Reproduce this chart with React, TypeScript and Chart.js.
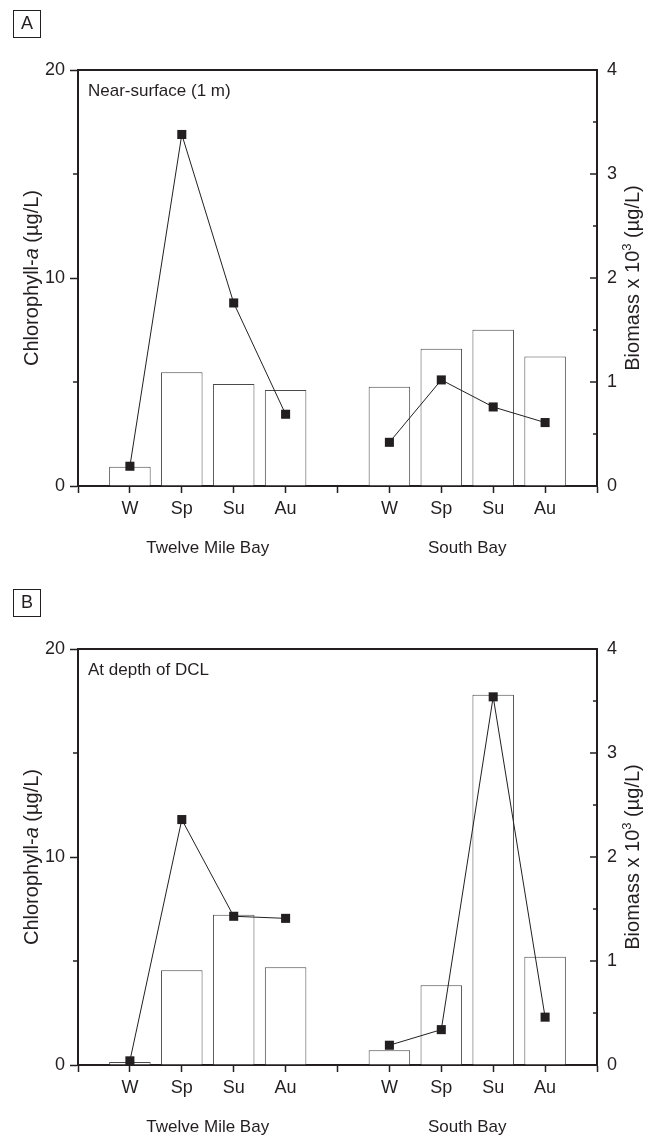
import React, { useEffect, useRef } from 'react';
import { Chart, registerables } from 'chart.js';

Chart.register(...registerables);

// ---------- data ----------
const X_TICK_LABELS = ['', 'W', 'Sp', 'Su', 'Au', '', 'W', 'Sp', 'Su', 'Au', ''];
const BAR_X = [1, 2, 3, 4, 6, 7, 8, 9];
const GROUP_INDEX = [
  [0, 1, 2, 3],
  [4, 5, 6, 7],
];
const GROUP_LABELS = ['Twelve Mile Bay', 'South Bay'];
const GROUP_CENTER_X = [2.5, 7.5];

// Panel A: near-surface (1 m)
const A_CHL = [0.93, 5.47, 4.9, 4.62, 4.77, 6.6, 7.51, 6.22];
const A_BIOMASS = [0.19, 3.38, 1.76, 0.69, 0.42, 1.02, 0.76, 0.61];
// Panel B: at depth of DCL
const B_CHL = [0.14, 4.55, 7.22, 4.7, 0.71, 3.83, 17.8, 5.2];
const B_BIOMASS = [0.04, 2.36, 1.43, 1.41, 0.19, 0.34, 3.54, 0.46];

const LEFT_MINOR = [5, 15];
const RIGHT_MAJOR = [1, 2, 3];
const RIGHT_MINOR = [0.5, 1.5, 2.5, 3.5];

// ---------- style ----------
const INK = '#231f20';
const BAR_EDGE = '#4a4a4a';
const FONT = '"Liberation Sans", Arial, sans-serif';
const FS = 18;
const LABEL_FS = 17;
const TITLE_FS = 20;
const W = 645;
const PLOT_LEFT = 78;
const PLOT_RIGHT = 597;
const PLOT_TOP = 70;
const PLOT_BOTTOM = 486;

type Run = { t: string; italic?: boolean; sup?: boolean };
const LEFT_TITLE: Run[] = [{ t: 'Chlorophyll-' }, { t: 'a', italic: true }, { t: ' (µg/L)' }];
const RIGHT_TITLE: Run[] = [{ t: 'Biomass x 10' }, { t: '3', sup: true }, { t: ' (µg/L)' }];

function drawRich(ctx: CanvasRenderingContext2D, runs: Run[], cx: number, cy: number, size: number) {
  ctx.save();
  ctx.translate(cx, cy);
  ctx.rotate(-Math.PI / 2);
  const fontFor = (r: Run) =>
    `${r.italic ? 'italic ' : ''}${r.sup ? Math.round(size * 0.65) : size}px ${FONT}`;
  let total = 0;
  for (const r of runs) {
    ctx.font = fontFor(r);
    total += ctx.measureText(r.t).width;
  }
  let x = -total / 2;
  ctx.textAlign = 'left';
  ctx.textBaseline = 'alphabetic';
  for (const r of runs) {
    ctx.font = fontFor(r);
    ctx.fillText(r.t, x, size * 0.36 + (r.sup ? -size * 0.42 : 0));
    x += ctx.measureText(r.t).width;
  }
  ctx.restore();
}

type PanelProps = {
  top: number;
  height: number;
  letter: string;
  note: string;
  chl: number[];
  bio: number[];
};

function Panel({ top, height, letter, note, chl, bio }: PanelProps) {
  const ref = useRef<HTMLCanvasElement>(null);

  useEffect(() => {
    const canvas = ref.current;
    if (!canvas) return;

    const extras = {
      id: 'extras',
      afterDraw(chart: any) {
        const ctx: CanvasRenderingContext2D = chart.ctx;
        const { left, right, top: t, bottom } = chart.chartArea;
        const ys = chart.scales.y;
        const yr = chart.scales.y1;
        const xs = chart.scales.x;
        ctx.save();
        ctx.strokeStyle = INK;
        ctx.fillStyle = INK;
        ctx.lineWidth = 1.5;
        const seg = (x1: number, y1: number, x2: number, y2: number) => {
          ctx.beginPath();
          ctx.moveTo(x1, y1);
          ctx.lineTo(x2, y2);
          ctx.stroke();
        };
        LEFT_MINOR.forEach((v) => {
          const p = ys.getPixelForValue(v);
          seg(left - 5, p, left, p);
        });
        RIGHT_MAJOR.forEach((v) => {
          const p = yr.getPixelForValue(v);
          seg(right - 7, p, right, p);
        });
        RIGHT_MINOR.forEach((v) => {
          const p = yr.getPixelForValue(v);
          seg(right - 4, p, right, p);
        });

        // panel letter box
        ctx.lineWidth = 1;
        ctx.strokeRect(13.5, 10.5, 27, 27);
        ctx.font = `${FS}px ${FONT}`;
        ctx.textAlign = 'center';
        ctx.textBaseline = 'middle';
        ctx.fillText(letter, 27, 24.5);

        // note inside plot
        ctx.font = `${LABEL_FS}px ${FONT}`;
        ctx.textAlign = 'left';
        ctx.fillText(note, left + 10, t + 21);

        // group labels
        ctx.textAlign = 'center';
        GROUP_LABELS.forEach((g, i) => {
          ctx.fillText(g, xs.getPixelForValue(GROUP_CENTER_X[i]), bottom + 62);
        });

        // axis titles
        drawRich(ctx, LEFT_TITLE, 31, (t + bottom) / 2, TITLE_FS);
        drawRich(ctx, RIGHT_TITLE, 632, (t + bottom) / 2, TITLE_FS);
        ctx.restore();
      },
    };

    const lineDs = GROUP_INDEX.map((idx) => ({
      type: 'line' as const,
      data: idx.map((i) => ({ x: BAR_X[i], y: bio[i] })),
      yAxisID: 'y1',
      xAxisID: 'x',
      borderColor: INK,
      borderWidth: 1,
      pointStyle: 'rect' as const,
      pointRadius: 6.4,
      pointBorderWidth: 0,
      pointBackgroundColor: INK,
      pointBorderColor: INK,
      fill: false,
      tension: 0,
      order: 0,
    }));

    const tickFont = { family: FONT, size: FS };

    const chart = new Chart(canvas, {
      type: 'bar',
      data: {
        datasets: [
          {
            type: 'bar',
            data: BAR_X.map((x, i) => ({ x, y: chl[i] })),
            yAxisID: 'y',
            xAxisID: 'x',
            backgroundColor: '#ffffff',
            borderColor: BAR_EDGE,
            borderWidth: 1,
            barPercentage: 0.8,
            categoryPercentage: 1,
            order: 2,
          } as any,
          ...(lineDs as any[]),
        ],
      },
      options: {
        responsive: false,
        maintainAspectRatio: false,
        animation: false,
        devicePixelRatio: 1,
        layout: { padding: { top: PLOT_TOP, left: 0, right: 0, bottom: 0 } },
        plugins: { legend: { display: false }, tooltip: { enabled: false } },
        scales: {
          x: {
            type: 'linear',
            position: 'bottom',
            min: 0,
            max: 10,
            offset: false,
            ticks: {
              stepSize: 1,
              autoSkip: false,
              maxRotation: 0,
              minRotation: 0,
              padding: 5,
              color: INK,
              font: tickFont,
              callback: (v: any) => X_TICK_LABELS[Math.round(Number(v))] ?? '',
            },
            grid: {
              offset: false,
              drawOnChartArea: false,
              drawTicks: true,
              tickLength: 7,
              tickWidth: 1.5,
              tickColor: INK,
            },
            border: { display: true, color: INK, width: 2 },
            afterFit: (s: any) => {
              s.height = height - PLOT_BOTTOM;
            },
          },
          xTop: {
            type: 'linear',
            position: 'top',
            min: 0,
            max: 10,
            ticks: { display: false },
            grid: { drawOnChartArea: false, drawTicks: false },
            border: { display: true, color: INK, width: 2 },
            afterFit: (s: any) => {
              s.height = 0;
            },
          },
          y: {
            type: 'linear',
            position: 'left',
            min: 0,
            max: 20,
            ticks: { stepSize: 10, padding: 5, color: INK, font: tickFont },
            grid: {
              drawOnChartArea: false,
              drawTicks: true,
              tickLength: 8,
              tickWidth: 1.5,
              tickColor: INK,
            },
            border: { display: true, color: INK, width: 2 },
            afterFit: (s: any) => {
              s.width = PLOT_LEFT;
            },
          },
          y1: {
            type: 'linear',
            position: 'right',
            min: 0,
            max: 4,
            ticks: { stepSize: 1, padding: 10, color: INK, font: tickFont },
            grid: { drawOnChartArea: false, drawTicks: false },
            border: { display: true, color: INK, width: 2 },
            afterFit: (s: any) => {
              s.width = W - PLOT_RIGHT;
            },
          },
        },
      } as any,
      plugins: [extras],
    });

    return () => chart.destroy();
  }, [top, height, letter, note, chl, bio]);

  return (
    <canvas
      ref={ref}
      width={W}
      height={height}
      style={{ position: 'absolute', left: 0, top, width: W, height }}
    />
  );
}

export default function App() {
  return (
    <div style={{ position: 'absolute', left: 0, top: 0, width: W, height: 1135, background: '#fff' }}>
      <Panel top={0} height={570} letter="A" note="Near-surface (1 m)" chl={A_CHL} bio={A_BIOMASS} />
      <Panel top={579} height={556} letter="B" note="At depth of DCL" chl={B_CHL} bio={B_BIOMASS} />
    </div>
  );
}
